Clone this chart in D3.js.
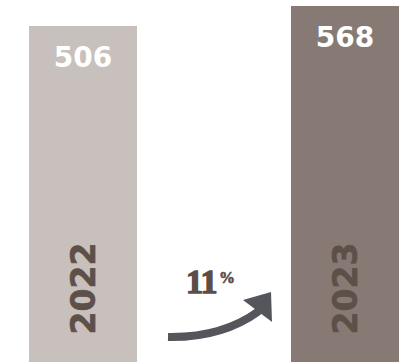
<!DOCTYPE html>
<html>
<head>
<meta charset="utf-8">
<script src="https://cdn.jsdelivr.net/npm/d3@7"></script>
<style>
  body { margin: 0; background: #fff; }
  svg { display: block; }
</style>
</head>
<body>
<script>
// data
var years = ["2022", "2023"];
var values = [506, 568];
var change = ["11", "%"];

var width = 408, height = 362;
var colors = ["#c8c0bc", "#877a74"];

var svg = d3.select("body").append("svg")
    .attr("width", width)
    .attr("height", height);

// x scale, bars are 108px wide
var x = d3.scaleBand()
    .domain(years)
    .range([29, 399])
    .paddingInner(0.5878)
    .paddingOuter(0);

// y does not start at zero, bars run off the bottom
var y = d3.scaleLinear()
    .domain([-536, 568])
    .range([height, 6]);

var data = years.map(function(d, i) { return {year: d, value: values[i]}; });

var g = svg.selectAll(".bar")
    .data(data)
  .enter().append("g")
    .attr("class", "bar");

g.append("rect")
    .attr("x", function(d) { return x(d.year); })
    .attr("y", function(d) { return y(d.value); })
    .attr("width", x.bandwidth())
    .attr("height", function(d) { return height - y(d.value); })
    .style("fill", function(d, i) { return colors[i]; });

// value labels
g.append("text")
    .attr("x", function(d) { return x(d.year) + x.bandwidth() / 2; })
    .attr("y", function(d) { return y(d.value) + 41; })
    .attr("text-anchor", "middle")
    .style("font-family", "DejaVu Sans")
    .style("font-weight", "bold")
    .style("font-size", "28px")
    .style("fill", "#ffffff")
    .text(function(d) { return d.value; });

// year labels, rotated
g.append("text")
    .attr("transform", function(d) {
      return "translate(" + (x(d.year) + x.bandwidth() / 2 + 12) + ",288.5) rotate(-90)";
    })
    .attr("text-anchor", "middle")
    .style("font-family", "DejaVu Sans")
    .style("font-weight", "bold")
    .style("font-size", "33px")
    .style("fill", "#5d5049")
    .style("stroke", "#5d5049")
    .style("stroke-width", 0.6)
    .text(function(d) { return d.year; });

// change arrow between the bars
var x0 = x(years[0]) + x.bandwidth(), x1 = x(years[1]);
var arrow = svg.append("g").attr("class", "arrow");

arrow.append("path")
    .attr("d", "M" + (x0 + 31) + ",337 Q" + (x0 + 85) + ",338 " + (x1 - 32) + ",311")
    .attr("fill", "none")
    .attr("stroke", "#55565b")
    .attr("stroke-width", 8);

arrow.append("path")
    .attr("d", "M" + (x1 - 48) + ",300 L" + (x1 - 20) + ",292 L" + (x1 - 19) + ",322 Z")
    .attr("fill", "#55565b");

var pct = svg.append("text")
    .attr("x", x0 + 49)
    .attr("y", 293)
    .style("font-family", "Liberation Serif")
    .style("font-weight", "bold")
    .style("fill", "#5b4e47")
    .style("stroke", "#5b4e47");

pct.append("tspan")
    .style("font-size", "34px")
    .style("stroke-width", 1.4)
    .attr("letter-spacing", "-0.5px")
    .text(change[0]);

pct.append("tspan")
    .style("font-size", "16px")
    .style("stroke-width", 0.6)
    .attr("dx", 2)
    .attr("dy", -10)
    .text(change[1]);
</script>
</body>
</html>
